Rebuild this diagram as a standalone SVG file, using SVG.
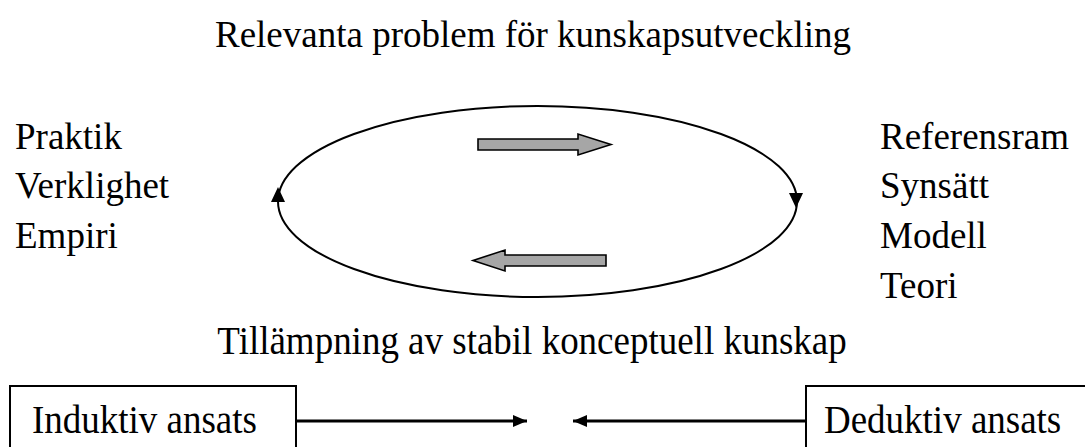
<svg xmlns="http://www.w3.org/2000/svg" width="1085" height="447" viewBox="0 0 1085 447">
  <style>
    text { font-family: "Liberation Serif", "Times New Roman", serif; font-size: 37px; fill: #000; }
    .mid { text-anchor: middle; }
    .block { fill: #a6a6a6; stroke: #000; stroke-width: 1.6; stroke-linejoin: miter; }
    .box { fill: #fff; stroke: #000; stroke-width: 2; }
    .line { stroke: #000; stroke-width: 3; fill: none; }
  </style>
  <defs>
    <marker id="head" viewBox="0 0 14 12" refX="14" refY="6" markerWidth="14" markerHeight="12" orient="auto" markerUnits="userSpaceOnUse">
      <path d="M0,0 L14,6 L0,12 Z" fill="#000"/>
    </marker>
  </defs>

  <g id="title">
    <text class="mid" x="533" y="47">Relevanta problem för kunskapsutveckling</text>
  </g>

  <g id="practice">
    <text x="15" y="149">Praktik</text>
    <text x="15" y="198">Verklighet</text>
    <text x="15" y="248">Empiri</text>
  </g>

  <g id="theory">
    <text x="880" y="149">Referensram</text>
    <text x="880" y="198">Synsätt</text>
    <text x="880" y="248">Modell</text>
    <text x="880" y="298">Teori</text>
  </g>

  <g id="application">
    <text class="mid" transform="translate(532 354) scale(1 1.1)" x="0" y="0">Tillämpning av stabil konceptuell kunskap</text>
  </g>

  <g id="inductive">
    <rect class="box" x="10" y="386" width="286" height="70"/>
    <text transform="translate(32 433) scale(1 1.1)" x="0" y="0">Induktiv ansats</text>
  </g>

  <g id="deductive">
    <rect class="box" x="806" y="386" width="290" height="70"/>
    <text transform="translate(824 433) scale(1 1.1)" x="0" y="0">Deduktiv ansats</text>
  </g>

  <g id="connectors">
    <!-- knowledge cycle -->
    <ellipse cx="537.5" cy="201.5" rx="259.5" ry="95.5" fill="none" stroke="#000" stroke-width="2"/>
    <polygon points="278,187 271,202 285,202" fill="#000"/>
    <polygon points="796,208 789,193 803,193" fill="#000"/>
    <!-- block arrows inside the cycle -->
    <polygon class="block" points="478,139 578,139 578,134 611,144.5 578,155 578,150 478,150"/>
    <polygon class="block" points="606,255 505,255 505,250 473,260.5 505,271 505,266 606,266"/>
    <!-- inductive / deductive approach -->
    <line class="line" x1="296" y1="421" x2="527" y2="421" marker-end="url(#head)"/>
    <line class="line" x1="806" y1="421" x2="573" y2="421" marker-end="url(#head)"/>
  </g>
</svg>
